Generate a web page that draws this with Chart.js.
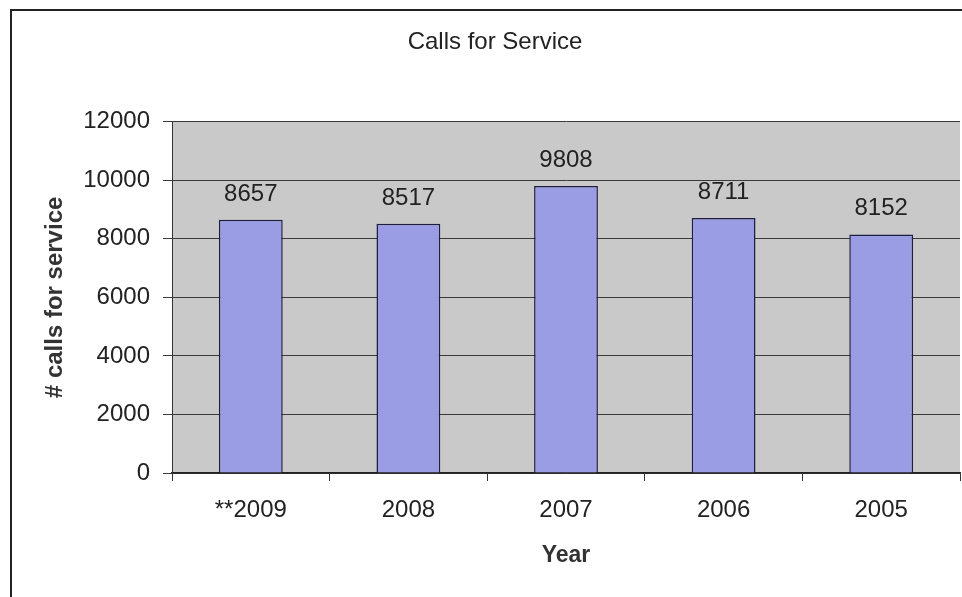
<!DOCTYPE html>
<html>
<head>
<meta charset="utf-8">
<title>Calls for Service</title>
<script src="https://cdn.jsdelivr.net/npm/chart.js@4.4.1/dist/chart.umd.min.js"></script>
<style>
    html, body { margin: 0; padding: 0; background: #fff; }
    #wrap { width: 962px; height: 597px; }
</style>
</head>
<body>
<div id="wrap"><canvas id="callsChart" width="962" height="597"></canvas></div>
<script>
    // Данные графика
    const years = ['**2009', '2008', '2007', '2006', '2005'];
    const calls = [8657, 8517, 9808, 8711, 8152];
    const yTicks = [0, 2000, 4000, 6000, 8000, 10000, 12000];

    const fontFamily = '"Liberation Sans", Arial, Helvetica, sans-serif';

    // Рамка вокруг всей диаграммы и серый фон области построения
    const backgroundPlugin = {
        id: 'backgroundPlugin',
        beforeDraw(chart) {
            const ctx = chart.ctx;
            const area = chart.chartArea;
            ctx.save();
            ctx.fillStyle = '#ffffff';
            ctx.fillRect(0, 0, chart.width, chart.height);

            ctx.strokeStyle = '#222222';
            ctx.lineWidth = 2;
            ctx.beginPath();
            ctx.moveTo(11, chart.height);
            ctx.lineTo(11, 10);
            ctx.lineTo(chart.width, 10);
            ctx.stroke();

            ctx.fillStyle = '#c9c9c9';
            ctx.fillRect(area.left, area.top, area.right - area.left, area.bottom - area.top);
            ctx.restore();
        }
    };

    // Подписи значений над столбцами
    const valueLabels = {
        id: 'valueLabels',
        afterDatasetsDraw(chart) {
            const ctx = chart.ctx;
            const meta = chart.getDatasetMeta(0);
            ctx.save();
            ctx.font = '24px ' + fontFamily;
            ctx.fillStyle = '#222222';
            ctx.textAlign = 'center';
            ctx.textBaseline = 'alphabetic';
            meta.data.forEach((bar, i) => {
                ctx.fillText(String(calls[i]), bar.x, bar.y - 19);
            });
            ctx.restore();
        }
    };

    const ctx = document.getElementById('callsChart').getContext('2d');
    const callsChart = new Chart(ctx, {
        type: 'bar',
        data: {
            labels: years,
            datasets: [{
                label: 'Calls for Service',
                data: calls,
                backgroundColor: '#9a9de3',
                borderColor: '#1e1e40',
                borderWidth: 1.5,
                categoryPercentage: 1,
                barPercentage: 0.405
            }]
        },
        options: {
            responsive: false,
            animation: false,
            layout: {
                padding: { left: 30, right: 2, top: 0, bottom: 0 }
            },
            plugins: {
                legend: { display: false },
                tooltip: { enabled: false },
                title: {
                    display: true,
                    text: 'Calls for Service',
                    color: '#222222',
                    font: { family: fontFamily, size: 24, weight: 'normal' },
                    padding: { top: 28, bottom: 65 }
                }
            },
            scales: {
                x: {
                    afterFit(scale) { scale.height = 124; },
                    grid: {
                        offset: true,
                        drawOnChartArea: false,
                        drawTicks: true,
                        tickLength: 8,
                        color: '#333333'
                    },
                    border: { display: true, color: '#222222', width: 1.5 },
                    ticks: {
                        color: '#222222',
                        padding: 15,
                        maxRotation: 0,
                        font: { family: fontFamily, size: 24 }
                    },
                    title: {
                        display: true,
                        text: 'Year',
                        color: '#333333',
                        font: { family: fontFamily, size: 23, weight: 'bold' },
                        padding: { top: 0, bottom: 28 }
                    }
                },
                y: {
                    min: 0,
                    max: 12000,
                    afterFit(scale) { scale.width = 142; },
                    afterBuildTicks(scale) {
                        scale.ticks = yTicks.map(v => ({ value: v }));
                    },
                    grid: {
                        color: '#3a3a3a',
                        lineWidth: 1,
                        drawTicks: true,
                        tickLength: 9
                    },
                    border: { display: true, color: '#333333', width: 1 },
                    ticks: {
                        color: '#222222',
                        padding: 13,
                        font: { family: fontFamily, size: 24 },
                        callback: (value) => String(value)
                    },
                    title: {
                        display: true,
                        text: '# calls for service',
                        color: '#333333',
                        font: { family: fontFamily, size: 24, weight: 'bold' },
                        padding: { top: 11, bottom: 0 }
                    }
                }
            }
        },
        plugins: [backgroundPlugin, valueLabels]
    });
</script>
</body>
</html>
